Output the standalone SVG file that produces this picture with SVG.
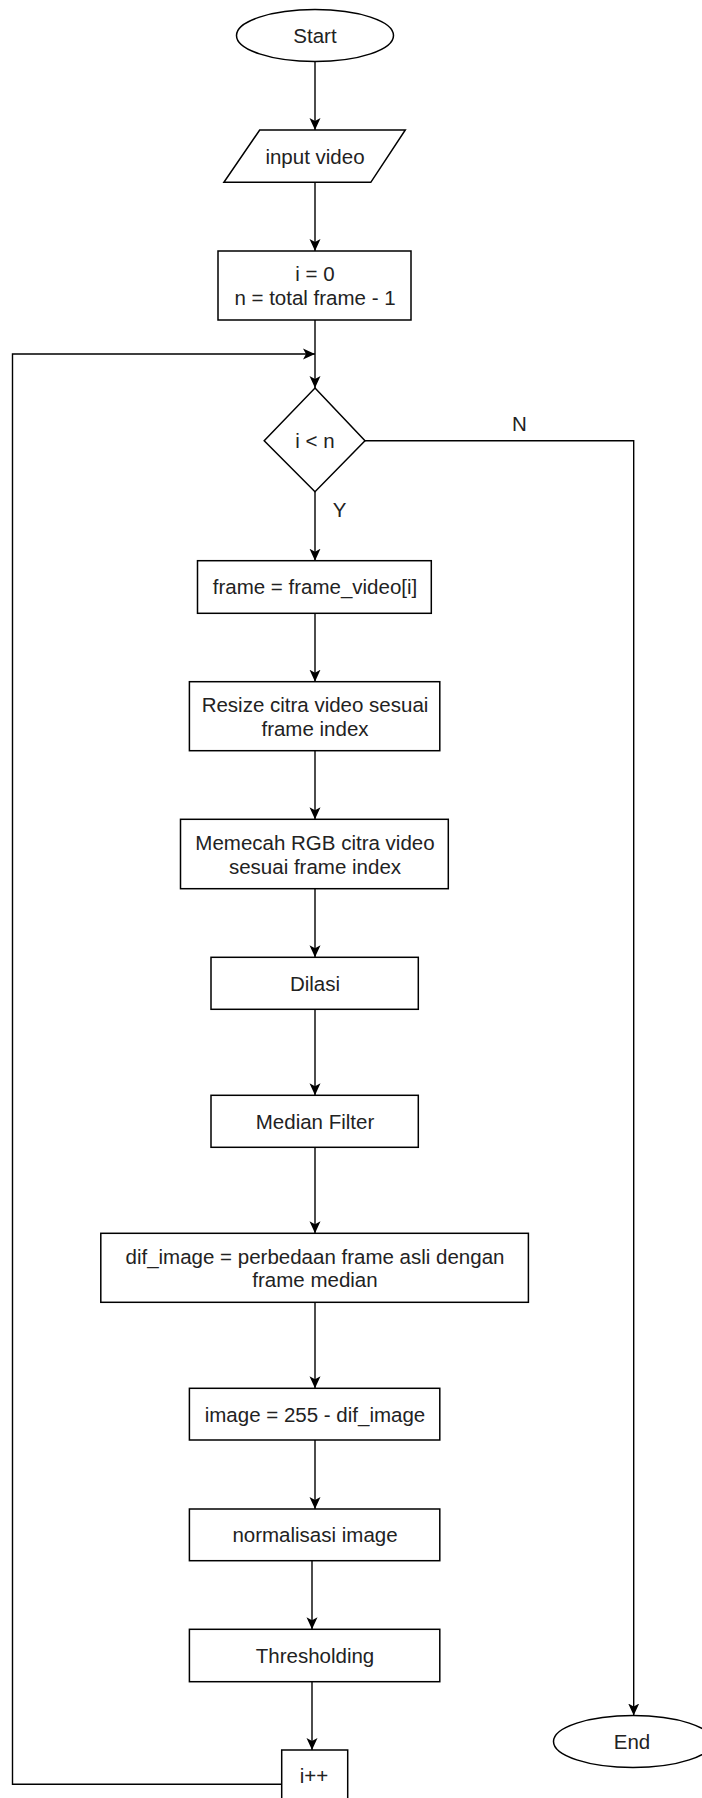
<svg xmlns="http://www.w3.org/2000/svg" width="702" height="1798" viewBox="0 0 702 1798">
<style>
.s{fill:#fff;stroke:#000;stroke-width:1.5}
.c{fill:none;stroke:#000;stroke-width:1.4}
.t{font-family:"Liberation Sans",Arial,sans-serif;font-size:20.5px;fill:#222;text-anchor:middle}
</style>
<defs>
<marker id="a" markerUnits="userSpaceOnUse" markerWidth="12" markerHeight="12" viewBox="0 0 12 12" refX="12" refY="6" orient="auto">
<path d="M0,0.5 L12,6 L0,11.5 L3,6 Z" fill="#000"/>
</marker>
</defs>
<rect width="702" height="1798" fill="#fff"/>
<g id="connectors">
<path class="c" d="M315,61.5 V130" marker-end="url(#a)"/>
<path class="c" d="M315,182.3 V251" marker-end="url(#a)"/>
<path class="c" d="M315,320 V388" marker-end="url(#a)"/>
<path class="c" d="M281.7,1784.3 H12.5 V354 H315" marker-end="url(#a)"/>
<path class="c" d="M315,491.7 V560.7" marker-end="url(#a)"/>
<path class="c" d="M365,440.7 H633.7 V1715.5" marker-end="url(#a)"/>
<path class="c" d="M315,613.3 V681.7" marker-end="url(#a)"/>
<path class="c" d="M315,750.7 V819.3" marker-end="url(#a)"/>
<path class="c" d="M315,888.7 V957.3" marker-end="url(#a)"/>
<path class="c" d="M315,1009.3 V1095.3" marker-end="url(#a)"/>
<path class="c" d="M315,1147.3 V1233.3" marker-end="url(#a)"/>
<path class="c" d="M315,1302.3 V1388.3" marker-end="url(#a)"/>
<path class="c" d="M315,1440 V1509" marker-end="url(#a)"/>
<path class="c" d="M312,1560.7 V1629.3" marker-end="url(#a)"/>
<path class="c" d="M312,1681.7 V1750" marker-end="url(#a)"/>
<text class="t" x="339.5" y="517">Y</text>
<text class="t" x="519.5" y="431">N</text>
</g>
<g id="start"><ellipse class="s" cx="315" cy="35.5" rx="78.5" ry="26"/><text class="t" x="315" y="42.5">Start</text></g>
<g id="input"><polygon class="s" points="259.7,130 405.3,130 370.8,182.3 223.9,182.3"/><text class="t" x="315" y="163.5">input video</text></g>
<g id="init"><rect class="s" x="218" y="251" width="193" height="69"/><text class="t" x="315" y="281">i = 0</text><text class="t" x="315" y="305">n = total frame - 1</text></g>
<g id="cond"><polygon class="s" points="315,388 365,440.7 315,491.7 264.2,440.7"/><text class="t" x="315" y="448">i &lt; n</text></g>
<g id="frame"><rect class="s" x="197.5" y="560.7" width="233.8" height="52.6"/><text class="t" x="315" y="594">frame = frame_video[i]</text></g>
<g id="resize"><rect class="s" x="189.4" y="681.7" width="250.4" height="69"/><text class="t" x="315" y="712">Resize citra video sesuai</text><text class="t" x="315" y="736">frame index</text></g>
<g id="rgb"><rect class="s" x="180.5" y="819.3" width="267.8" height="69.4"/><text class="t" x="315" y="849.5">Memecah RGB citra video</text><text class="t" x="315" y="873.5">sesuai frame index</text></g>
<g id="dilasi"><rect class="s" x="211" y="957.3" width="207.3" height="52"/><text class="t" x="315" y="990.5">Dilasi</text></g>
<g id="median"><rect class="s" x="211" y="1095.3" width="207.3" height="52"/><text class="t" x="315" y="1129">Median Filter</text></g>
<g id="dif"><rect class="s" x="100.8" y="1233.3" width="427.6" height="69"/><text class="t" x="315" y="1263.5">dif_image = perbedaan frame asli dengan</text><text class="t" x="315" y="1287">frame median</text></g>
<g id="image"><rect class="s" x="189.4" y="1388.3" width="250.4" height="51.7"/><text class="t" x="315" y="1421.5">image = 255 - dif_image</text></g>
<g id="norm"><rect class="s" x="189.4" y="1509" width="250.4" height="51.7"/><text class="t" x="315" y="1542">normalisasi image</text></g>
<g id="thresh"><rect class="s" x="189.4" y="1629.3" width="250.4" height="52.4"/><text class="t" x="315" y="1662.5">Thresholding</text></g>
<g id="inc"><rect class="s" x="281.7" y="1750" width="66" height="70"/><text class="t" x="314" y="1783">i++</text></g>
<g id="end"><ellipse class="s" cx="633" cy="1741.5" rx="79.5" ry="26"/><text class="t" x="632" y="1748.5">End</text></g>
</svg>
